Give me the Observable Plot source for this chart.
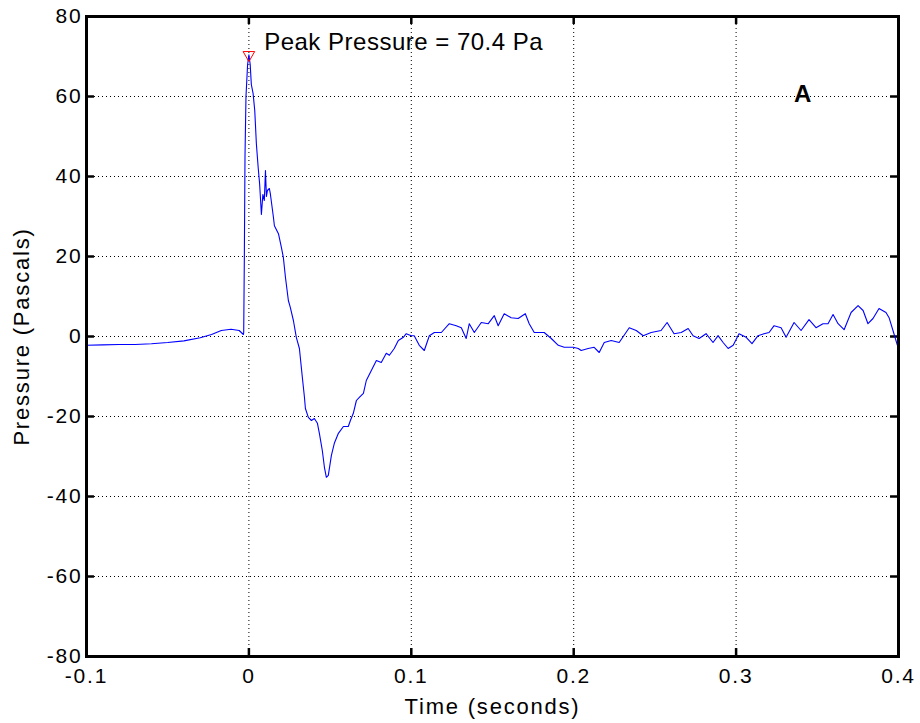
<!DOCTYPE html>
<html><head><meta charset="utf-8">
<script src="https://cdn.jsdelivr.net/npm/d3@7"></script>
<script src="https://cdn.jsdelivr.net/npm/@observablehq/plot@0.6"></script>
<style>html,body{margin:0;padding:0;background:#fff}</style>
</head><body><div id="chart"></div>
<script>
// Pressure trace (time in seconds, pressure in Pa)
const timeS = [
  -0.1, -0.09, -0.08, -0.07, -0.06, -0.05, -0.04, -0.03, -0.023, -0.017, -0.011, -0.006, -0.0034,
  -0.0032, -0.0028, -0.0024, -0.0018, -0.0008, 0, 0.0008, 0.0015, 0.0026, 0.0036, 0.0046, 0.0057,
  0.0066, 0.0077, 0.0086, 0.0095, 0.0102, 0.0108, 0.0114, 0.0126, 0.0132, 0.0151, 0.0157, 0.0182,
  0.02, 0.0212, 0.0225, 0.0243, 0.0255, 0.0274, 0.0292, 0.0311, 0.0329, 0.0342, 0.0348, 0.0366,
  0.0385, 0.0403, 0.0422, 0.0434, 0.0452, 0.0465, 0.0477, 0.0489, 0.0508, 0.0526, 0.0551, 0.0582,
  0.0612, 0.0625, 0.0643, 0.0662, 0.068, 0.0705, 0.0723, 0.0754, 0.0785, 0.0815, 0.0846, 0.0865,
  0.0895, 0.092, 0.0951, 0.0969, 0.1, 0.1018, 0.1049, 0.108, 0.1111, 0.1142, 0.1185, 0.1234,
  0.1277, 0.1308, 0.1338, 0.1357, 0.1388, 0.1431, 0.1474, 0.1511, 0.1535, 0.1572, 0.1615, 0.1658,
  0.1702, 0.1726, 0.1757, 0.1818, 0.1862, 0.1905, 0.1942, 0.1997, 0.2028, 0.2046, 0.2089, 0.2126,
  0.2157, 0.2188, 0.2231, 0.228, 0.2342, 0.2385, 0.2428, 0.2477, 0.2538, 0.2575, 0.2618, 0.2662,
  0.2705, 0.2735, 0.2772, 0.2815, 0.2858, 0.2889, 0.292, 0.2951, 0.2982, 0.3018, 0.3062, 0.3098,
  0.3135, 0.3172, 0.3203, 0.3234, 0.3277, 0.3308, 0.3357, 0.34, 0.3449, 0.3492, 0.3535, 0.3566,
  0.3597, 0.3628, 0.3665, 0.3708, 0.3751, 0.3782, 0.3812, 0.3843, 0.388, 0.3923, 0.3942, 0.3966, 0.3997
];
const pressurePa = [
  -2.2, -2.1, -2.0, -2.0, -1.8, -1.5, -1.1, -0.3, 0.5, 1.5, 1.8, 1.5, 0.5,
  1, 20, 45, 60, 68, 70.4, 68, 63, 60.7, 56.5, 48.2, 42.3,
  38.2, 30.5, 35.5, 34, 41.5, 35, 36.5, 37, 35.7, 29.8, 27.7, 25.7,
  22.3, 19.8, 14.8, 9, 7.3, 4, -0.2, -3, -10.2, -15.2, -18, -20.2,
  -21, -20.5, -21.7, -24.2, -28.5, -32.7, -35.2, -34.7, -29.7, -26.7, -24.2, -22.5,
  -22.5, -21, -19.2, -16, -15.2, -14.2, -11, -8.5, -6, -6.5, -4.2, -4.7,
  -3, -1, -0.2, 0.7, 0.2, 0.2, -2.2, -3.5, 0.2, 1, 1, 3.2,
  2.7, 2.2, -0.5, 3.2, 1, 3.5, 3.2, 5.2, 2.7, 5.7, 4.7, 4.5,
  5.7, 3.2, 1, 1, -0.5, -2.2, -2.7, -2.7, -3, -3.5, -3, -2.7,
  -4, -1.5, -1, -1.5, 2.2, 1.5, 0.2, 1, 1.5, 3.5, 0.7, 1,
  2, 0.2, -0.5, 0.7, -1.5, 0.2, -1.5, -3, -2.2, 0.7, -0.2, -1.8,
  0.2, 0.7, 1, 2.7, 2.2, -0.2, 3.5, 1.5, 4.2, 2.2, 3.2, 3.2,
  5.5, 3.2, 1.7, 6, 7.7, 6.5, 3.2, 4.5, 7, 6, 4.7, 1.5, -2.7
];

const xDomain = [-0.1, 0.4];
const yDomain = [-80, 80];
const xTicks = [-0.1, 0, 0.1, 0.2, 0.3, 0.4];
const xTickLabels = ["-0.1", "0", "0.1", "0.2", "0.3", "0.4"];
const yTicks = [-80, -60, -40, -20, 0, 20, 40, 60, 80];
const yTickLabels = ["-80", "-60", "-40", "-20", "0", "20", "40", "60", "80"];

const peakT = [0];
const peakP = [70.4];
const peakText = ["Peak Pressure = 70.4 Pa"];
const peakTextPos = {t: 0.0094, p: 73.6};
const panelLabel = ["A"];
const panelLabelPos = {t: 0.3415, p: 60.6};
const xLabel = "Time (seconds)";
const yLabel = "Pressure (Pascals)";

const series = timeS.map((t, i) => ({t, p: pressurePa[i]}));
const peak = peakT.map((t, i) => ({t, p: peakP[i]}));

const xLabelMap = new Map(xTicks.map((v, i) => [v, xTickLabels[i]]));
const yLabelMap = new Map(yTicks.map((v, i) => [v, yTickLabels[i]]));

const innerX = xTicks.filter(v => v > xDomain[0] && v < xDomain[1]);
const innerY = yTicks.filter(v => v > yDomain[0] && v < yDomain[1]);
const tickLenY = 2;      // in y units
const tickLenX = 0.0049; // in x units

const plot = Plot.plot({
  width: 920,
  height: 723,
  marginLeft: 86,
  marginRight: 22,
  marginTop: 16,
  marginBottom: 67,
  style: {
    fontFamily: "'Liberation Sans', Arial, Helvetica, sans-serif",
    fontSize: "21px",
    letterSpacing: "1.8px",
    background: "#fff",
    color: "#000",
    overflow: "visible"
  },
  x: {domain: xDomain},
  y: {domain: yDomain},
  marks: [
    // dotted grid
    Plot.ruleX(innerX, {x: d => d, stroke: "#000", strokeWidth: 1, strokeDasharray: "1,3"}),
    Plot.ruleY(innerY, {y: d => d, stroke: "#000", strokeWidth: 1, strokeDasharray: "1,3"}),
    // inward ticks on all four sides
    Plot.ruleX(xTicks, {x: d => d, y1: yDomain[0], y2: yDomain[0] + tickLenY, stroke: "#000", strokeWidth: 2.5}),
    Plot.ruleX(xTicks, {x: d => d, y1: yDomain[1], y2: yDomain[1] - tickLenY, stroke: "#000", strokeWidth: 2.5}),
    Plot.ruleY(yTicks, {y: d => d, x1: xDomain[0], x2: xDomain[0] + tickLenX, stroke: "#000", strokeWidth: 2.5}),
    Plot.ruleY(yTicks, {y: d => d, x1: xDomain[1], x2: xDomain[1] - tickLenX, stroke: "#000", strokeWidth: 2.5}),
    // trace
    Plot.line(series, {x: "t", y: "p", stroke: "#0000ff", strokeWidth: 1.1}),
    // peak marker (downward triangle)
    Plot.dot(peak, {x: "t", y: "p", symbol: "triangle", rotate: 180, r: 4.3, stroke: "#ff0000", fill: "none", strokeWidth: 1}),
    // annotations
    Plot.text(peakText, {x: () => peakTextPos.t, y: () => peakTextPos.p, text: d => d, textAnchor: "start", lineAnchor: "middle", fontSize: 24, fill: "#000"}),
    Plot.text(panelLabel, {x: () => panelLabelPos.t, y: () => panelLabelPos.p, text: d => d, textAnchor: "middle", lineAnchor: "middle", fontSize: 24, fontWeight: "bold", fill: "#000"}),
    // axes
    Plot.axisX({ticks: xTicks, tickFormat: d => xLabelMap.get(d), tickSize: 0, tickPadding: 12, label: null}),
    Plot.axisY({ticks: yTicks, tickFormat: d => yLabelMap.get(d), tickSize: 0, tickPadding: 4, label: null}),
    // axis titles
    Plot.text([xLabel], {frameAnchor: "bottom", dy: 50.5, textAnchor: "middle", lineAnchor: "middle", fontSize: 22, text: d => d, fill: "#000"}),
    Plot.text([yLabel], {frameAnchor: "left", dx: -64.4, rotate: -90, textAnchor: "middle", lineAnchor: "middle", fontSize: 22, text: d => d, fill: "#000"}),
    // frame
    Plot.frame({stroke: "#000", strokeWidth: 3})
  ]
});

d3.select(plot).selectAll("text")
  .filter(function () { return this.textContent.startsWith("Peak"); })
  .style("letter-spacing", "0.5px");

document.getElementById("chart").appendChild(plot);
</script>
</body></html>
